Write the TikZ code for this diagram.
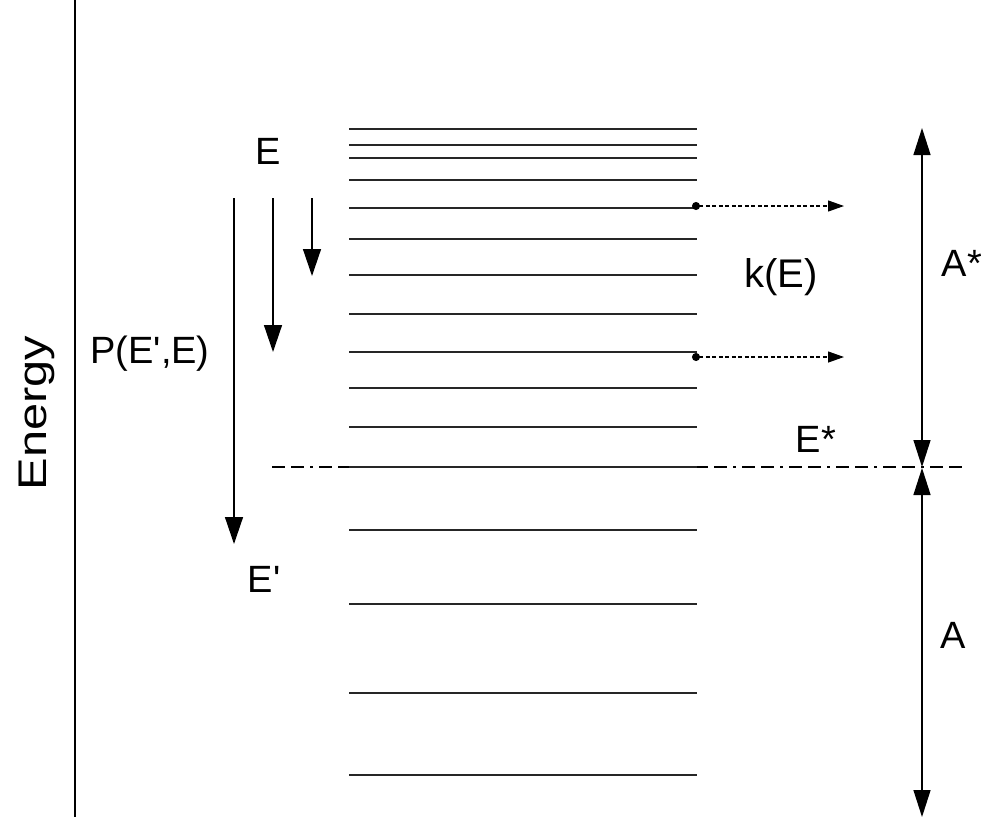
\documentclass[tikz,border=0pt]{standalone}
\usepackage{fontspec}
\usepackage{graphicx}
\setmainfont{Liberation Sans}
\usetikzlibrary{arrows.meta}
\begin{document}
\begin{tikzpicture}[x=1pt,y=-1pt,
  lbl/.style={font=\fontsize{38}{44}\selectfont, anchor=base, inner sep=0pt},
  levelline/.style={draw=black!85, line width=1.4pt},
  downarrow/.style={draw, line width=1.4pt, -{Triangle[length=27pt,width=18pt]}},
  dblarrow/.style={draw, line width=1.4pt, {Triangle[length=27pt,width=17pt]}-{Triangle[length=27pt,width=17pt]}},
  dotarrow/.style={draw, line width=1.2pt, dash pattern=on 4pt off 2.5pt,
     {Circle[length=8pt]}-{Triangle[length=16pt,width=11pt]}},
  dashdot/.style={draw, line width=1.2pt, dash pattern=on 13pt off 6pt on 13pt off 6pt on 3pt off 6pt}
]
\useasboundingbox (0,0) rectangle (981,817);
% energy axis
\coordinate (ax1) at (75,0);
\coordinate (ax2) at (75,817);
\draw[line width=1.4pt] (ax1) -- (ax2);
\node[lbl, font=\fontsize{40}{46}\selectfont, rotate=90] (energy) at (46,413) {\scalebox{1.22}[1]{Energy}};
% levels
\foreach \i/\y in {1/129,2/145,3/158,4/180,5/208,6/239,7/275,8/314,9/352,10/388,11/427,12/467,13/530,14/604,15/693,16/775}{
  \coordinate (l\i) at (349,\y);
  \coordinate (r\i) at (697,\y);
}
% threshold dash-dot line
\coordinate (th1) at (272,467);
\coordinate (th2) at (966,467);
\draw[dashdot] (th1) -- (th2);
\foreach \i in {1,...,16}{ \draw[levelline] (l\i) -- (r\i); }
% transfer arrows
\coordinate (t1s) at (234,198); \coordinate (t1e) at (234,544);
\coordinate (t2s) at (273,198); \coordinate (t2e) at (273,352);
\coordinate (t3s) at (312,198); \coordinate (t3e) at (312,276);
\draw[downarrow] (t1s) -- (t1e);
\draw[downarrow] (t2s) -- (t2e);
\draw[downarrow] (t3s) -- (t3e);
% reaction arrows
\coordinate (k1s) at (692,206); \coordinate (k1e) at (844,206);
\coordinate (k2s) at (692,357); \coordinate (k2e) at (844,357);
\draw[dotarrow] (k1s) -- (k1e);
\draw[dotarrow] (k2s) -- (k2e);
% right double arrows
\coordinate (as1) at (922,128); \coordinate (as2) at (922,467);
\coordinate (a1) at (922,468); \coordinate (a2) at (922,817);
\draw[dblarrow] (as1) -- (as2);
\draw[dblarrow] (a1) -- (a2);
% labels
\node[lbl] (E) at (268,164) {E};
\node[lbl] (P) at (150,363) {P(E\textquotesingle,E)};
\node[lbl] (Ep) at (264,592) {E\textquotesingle};
\node[lbl, font=\fontsize{40}{46}\selectfont] (k) at (781,287) {k(E)};
\node[lbl] (Astar) at (962,276) {A*};
\node[lbl] (Estar) at (816,452) {E*};
\node[lbl] (A) at (953,648) {A};
\end{tikzpicture}
\end{document}
